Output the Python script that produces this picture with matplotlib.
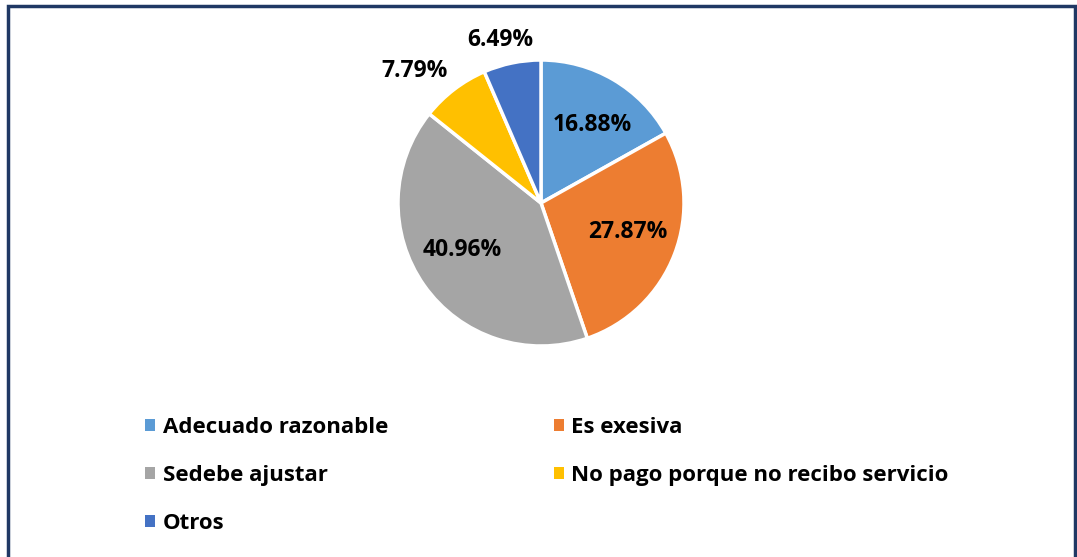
import matplotlib
matplotlib.use("Agg")
import matplotlib.pyplot as plt
from matplotlib.patches import Rectangle
import numpy as np

categories = ["Adecuado razonable", "Es exesiva", "Sedebe ajustar",
              "No pago porque no recibo servicio", "Otros"]
values = [16.88, 27.87, 40.96, 7.79, 6.49]
labels = ["16.88%", "27.87%", "40.96%", "7.79%", "6.49%"]
colors = ["#5B9BD5", "#ED7D31", "#A5A5A5", "#FFC000", "#4472C4"]
# label placement (radius fraction, angle in degrees)
label_r = [0.652, 0.641, 0.643, 1.276, 1.175]
label_ang = [56.8, -18.4, -149.25, 133.7, 104.1]

plt.rcParams['font.family'] = ['Open Sans', 'DejaVu Sans']
W, H = 1077, 557
fig = plt.figure(figsize=(W / 100, H / 100), dpi=100)

R = 143
cx, cy = 541, 203
ax = fig.add_axes([(cx - R) / W, 1 - (cy + R) / H, 2 * R / W, 2 * R / H])
wedges, _ = ax.pie(values, colors=colors, startangle=90, counterclock=False,
                   radius=1.0, wedgeprops=dict(edgecolor="white", linewidth=2.5))
ax.set_xlim(-1, 1)
ax.set_ylim(-1, 1)
ax.set_aspect('equal')
ax.axis('off')

for lab, r, a in zip(labels, label_r, label_ang):
    ang = np.deg2rad(a)
    ax.text(r * np.cos(ang), r * np.sin(ang), lab, ha='center', va='center',
            fontsize=16.5, fontweight='bold', color='black', clip_on=False)

handles = [Rectangle((0, 0), 1, 1, facecolor=c, edgecolor='none') for c in colors]
order = [0, 2, 4, 1, 3]
leg = fig.legend([handles[i] for i in order], [categories[i] for i in order],
                 ncol=2, loc='upper left',
                 bbox_to_anchor=(125 / W, 1 - 397 / H), frameon=False,
                 prop=dict(size=16, weight='bold'), handlelength=0.45,
                 handleheight=0.45, handletextpad=0.35, columnspacing=7.45,
                 labelspacing=1.22)

fig.add_artist(Rectangle((7.5 / W, -0.05), (1074.5 - 7.5) / W, 1.05 - 5.5 / H,
                         transform=fig.transFigure, fill=False,
                         edgecolor="#1F3864", linewidth=2.5))

fig.savefig("out.png", dpi=100)
